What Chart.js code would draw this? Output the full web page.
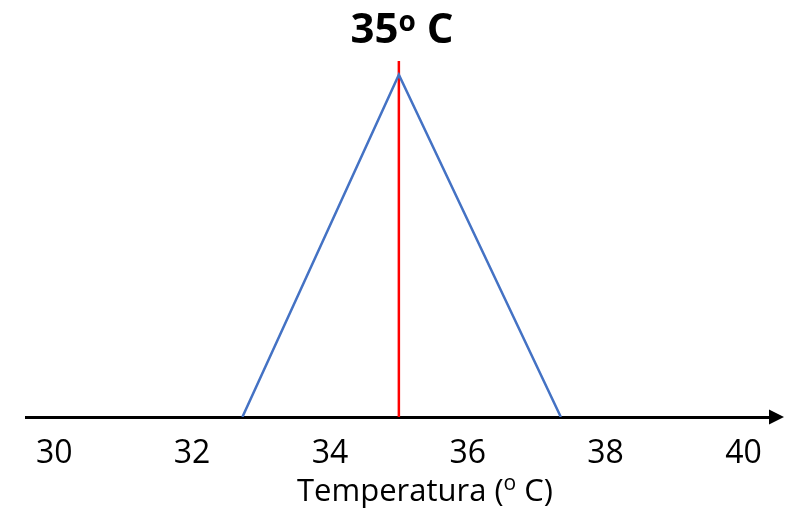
<!DOCTYPE html>
<html>
<head>
<meta charset="utf-8">
<script src="https://cdn.jsdelivr.net/npm/chart.js@4.4.1/dist/chart.umd.min.js"></script>
<style>
  html, body { margin: 0; padding: 0; background: #fff; }
  #wrap { width: 797px; height: 512px; }
</style>
</head>
<body>
<div id="wrap"><canvas id="myChart"></canvas></div>
<script>
// data
const tickValues = [30, 32, 34, 36, 38, 40];
const curveX = [32.73, 35, 37.35];
const curveY = [0, 1, 0];
const peakX = [35, 35];
const peakY = [0, 1.04];
const titleText = ['35', 'o', ' C'];          // base, superscript, base
const axisTitleText = ['Temperatura (', 'o', ' C)'];

const FONT = "'Open Sans', sans-serif";

// draws "base" + raised small "sup" + "rest" centred on cx
function drawSupText(ctx, parts, cx, baseY, size, weight, supSize, supRaise) {
  const big = weight + ' ' + size + 'px ' + FONT;
  const small = weight + ' ' + supSize + 'px ' + FONT;
  ctx.font = big;
  const w0 = ctx.measureText(parts[0]).width;
  const w2 = ctx.measureText(parts[2]).width;
  ctx.font = small;
  const w1 = ctx.measureText(parts[1]).width;
  let x = cx - (w0 + w1 + w2) / 2;
  ctx.textBaseline = 'alphabetic';
  ctx.textAlign = 'left';
  ctx.fillStyle = '#000';
  ctx.font = big;
  ctx.fillText(parts[0], x, baseY);
  x += w0;
  ctx.font = small;
  ctx.fillText(parts[1], x, baseY - supRaise);
  x += w1;
  ctx.font = big;
  ctx.fillText(parts[2], x, baseY);
}

const extras = {
  id: 'extras',
  afterDraw(chart) {
    const ctx = chart.ctx;
    const area = chart.chartArea;
    ctx.save();
    // arrow head at the end of the x axis
    ctx.fillStyle = '#000';
    ctx.beginPath();
    ctx.moveTo(area.right - 1, area.bottom - 7.5);
    ctx.lineTo(area.right + 14, area.bottom);
    ctx.lineTo(area.right - 1, area.bottom + 7.5);
    ctx.closePath();
    ctx.fill();
    // chart title and axis title with superscript o
    drawSupText(ctx, titleText, 402, 43, 42, 'bold', 28, 12);
    drawSupText(ctx, axisTitleText, 425, 501, 31, 'normal', 21, 11);
    ctx.restore();
  }
};

const ctx = document.getElementById('myChart').getContext('2d');
new Chart(ctx, {
  type: 'line',
  data: {
    datasets: [
      {
        data: curveX.map((x, i) => ({ x: x, y: curveY[i] })),
        borderColor: '#4472C4',
        borderWidth: 2.5,
        pointRadius: 0,
        tension: 0
      },
      {
        data: peakX.map((x, i) => ({ x: x, y: peakY[i] })),
        borderColor: '#FF0000',
        borderWidth: 2.5,
        pointRadius: 0
      }
    ]
  },
  options: {
    responsive: true,
    maintainAspectRatio: false,
    animation: false,
    layout: { padding: { top: 61, left: 26, right: 27, bottom: 0 } },
    plugins: {
      legend: { display: false },
      tooltip: { enabled: false }
    },
    scales: {
      x: {
        type: 'linear',
        min: 29.59,
        max: 40.385,
        afterBuildTicks: s => { s.ticks = tickValues.map(v => ({ value: v })); },
        afterFit: s => { s.height = 95; },
        grid: { display: false, drawTicks: false },
        border: { display: true, color: '#000', width: 3 },
        ticks: {
          color: '#000',
          padding: 18,
          maxRotation: 0,
          autoSkip: false,
          font: { family: FONT, size: 32 }
        }
      },
      y: {
        display: false,
        min: 0,
        max: 1.04
      }
    }
  },
  plugins: [extras]
});
</script>
</body>
</html>
